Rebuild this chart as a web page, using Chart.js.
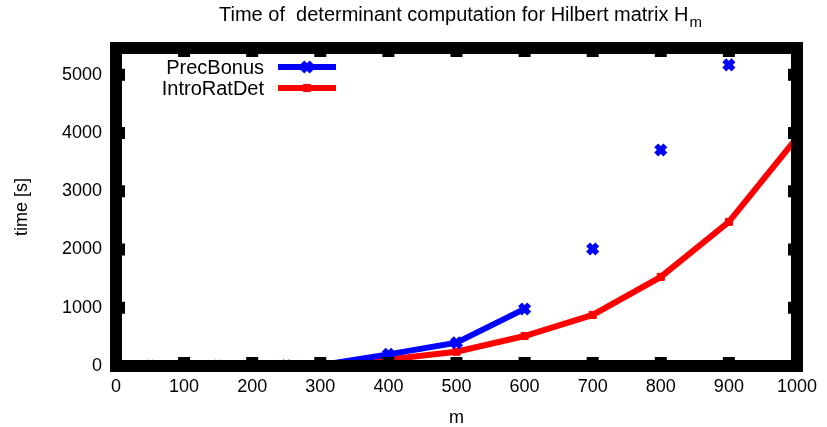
<!DOCTYPE html>
<html>
<head>
<meta charset="utf-8">
<title>Hilbert determinant timing</title>
<script src="https://cdn.jsdelivr.net/npm/chart.js@4.4.1/dist/chart.umd.min.js"></script>
<style>
  html, body { margin: 0; padding: 0; background: #fff; }
  #wrap { width: 827px; height: 427px; }
</style>
</head>
<body>
<div id="wrap"><canvas id="detChart" width="827" height="427"></canvas></div>
<script>
/* matrix size m and timings in seconds */
const precM = [50, 100, 150, 200, 250, 300, 400, 500, 600, 700, 800, 900];
const precTime = [0, 0, 0, 2, 5, 15, 200, 400, 980, 2010, 3710, 5170];
const introM = [100, 200, 300, 400, 500, 600, 700, 800, 900, 1000];
const introTime = [0, 2, 10, 110, 245, 515, 876, 1530, 2474, 3920];

const xTicks = [0, 100, 200, 300, 400, 500, 600, 700, 800, 900, 1000];
const yTicks = [0, 1000, 2000, 3000, 4000, 5000];

// PrecBonus is only joined up to m = 600, later runs are single points
const lastJoined = 600;

const FONT = '"Liberation Sans", Arial, sans-serif';
Chart.defaults.font.family = FONT;
Chart.defaults.color = '#000';

const toPoints = (xs, ys) => xs.map((x, i) => ({ x: x, y: ys[i] }));

/* thick gnuplot-like border with inward tabs, drawn over the data */
const framePlugin = {
  id: 'frame',
  afterDatasetsDraw(chart) {
    const { ctx, chartArea: a, scales } = chart;
    ctx.save();
    ctx.strokeStyle = '#000';
    ctx.lineWidth = 12;
    ctx.lineJoin = 'miter';
    ctx.lineCap = 'butt';
    ctx.strokeRect(a.left, a.top, a.right - a.left, a.bottom - a.top);
    const seg = (x1, y1, x2, y2) => {
      ctx.beginPath(); ctx.moveTo(x1, y1); ctx.lineTo(x2, y2); ctx.stroke();
    };
    xTicks.forEach(v => {
      const px = scales.x.getPixelForValue(v);
      seg(px, a.bottom, px, a.bottom - 9);
      seg(px, a.top, px, a.top + 9);
    });
    yTicks.forEach(v => {
      const py = scales.y.getPixelForValue(v);
      seg(a.left, py, a.left + 9, py);
      seg(a.right, py, a.right - 9, py);
    });
    ctx.restore();
  }
};

/* title with subscript and the key in the upper left corner */
const labelsPlugin = {
  id: 'labels',
  afterDraw(chart) {
    const ctx = chart.ctx;
    ctx.save();
    ctx.fillStyle = '#000';
    ctx.textBaseline = 'alphabetic';
    ctx.textAlign = 'left';
    const main = 'Time of  determinant computation for Hilbert matrix H';
    ctx.font = '20px ' + FONT;
    const w1 = ctx.measureText(main).width;
    ctx.font = '15px ' + FONT;
    const w2 = ctx.measureText('m').width;
    const x0 = 460 - (w1 + w2) / 2;
    ctx.font = '20px ' + FONT;
    ctx.fillText(main, x0, 21);
    ctx.font = '15px ' + FONT;
    ctx.fillText('m', x0 + w1 + 1, 27);

    // key
    const rows = [67, 88];
    chart.data.datasets.forEach((ds, i) => {
      const y = rows[i];
      ctx.font = '20px ' + FONT;
      ctx.textAlign = 'right';
      ctx.textBaseline = 'middle';
      ctx.fillStyle = '#000';
      ctx.fillText(ds.label, 264, y + 1);
      ctx.strokeStyle = ds.borderColor;
      ctx.fillStyle = ds.borderColor;
      ctx.lineWidth = ds.borderWidth;
      ctx.lineCap = 'butt';
      ctx.beginPath(); ctx.moveTo(278, y); ctx.lineTo(336, y); ctx.stroke();
      ctx.lineWidth = ds.pointBorderWidth;
      Chart.helpers.drawPoint(ctx, {
        pointStyle: ds.pointStyle, radius: ds.pointRadius,
        borderWidth: ds.pointBorderWidth, rotation: 0
      }, 307, y);
    });
    ctx.restore();
  }
};

new Chart(document.getElementById('detChart'), {
  type: 'line',
  data: {
    datasets: [
      {
        label: 'PrecBonus',
        data: toPoints(precM, precTime),
        borderColor: '#0000ff',
        backgroundColor: '#0000ff',
        borderWidth: 6,
        pointStyle: 'crossRot',
        pointRadius: 6.5,
        pointBorderWidth: 5.5,
        pointBorderColor: '#0000ff',
        tension: 0,
        clip: 0,
        segment: {
          borderColor: c => c.p0.parsed.x >= lastJoined ? 'rgba(0,0,0,0)' : undefined
        }
      },
      {
        label: 'IntroRatDet',
        data: toPoints(introM, introTime),
        borderColor: '#ff0000',
        backgroundColor: '#ff0000',
        borderWidth: 6,
        pointStyle: 'rect',
        pointRadius: 5,
        pointBorderWidth: 1,
        pointBorderColor: '#ff0000',
        tension: 0,
        clip: 0
      }
    ]
  },
  options: {
    responsive: false,
    animation: false,
    layout: { padding: { top: 48, right: 26, left: 0, bottom: 0 } },
    plugins: {
      legend: { display: false },
      tooltip: { enabled: false },
      title: { display: false }
    },
    scales: {
      x: {
        type: 'linear',
        min: 0,
        max: 1000,
        afterFit: s => { s.height = 61; },
        afterBuildTicks: s => { s.ticks = xTicks.map(v => ({ value: v })); },
        grid: { display: false, drawTicks: false },
        border: { display: false },
        ticks: { padding: 10, font: { size: 18 }, maxRotation: 0, autoSkip: false, callback: v => String(v) },
        title: { display: true, text: 'm', font: { size: 18 }, padding: { top: 0, bottom: -2 } }
      },
      y: {
        type: 'linear',
        min: 0,
        max: 5460,
        afterFit: s => { s.width = 116; },
        afterBuildTicks: s => { s.ticks = yTicks.map(v => ({ value: v })); },
        grid: { display: false, drawTicks: false },
        border: { display: false },
        ticks: { padding: 14, font: { size: 18 }, callback: v => String(v) },
        title: { display: true, text: 'time [s]', font: { size: 18 }, padding: { top: 11, bottom: 0 } }
      }
    }
  },
  plugins: [framePlugin, labelsPlugin]
});
</script>
</body>
</html>
